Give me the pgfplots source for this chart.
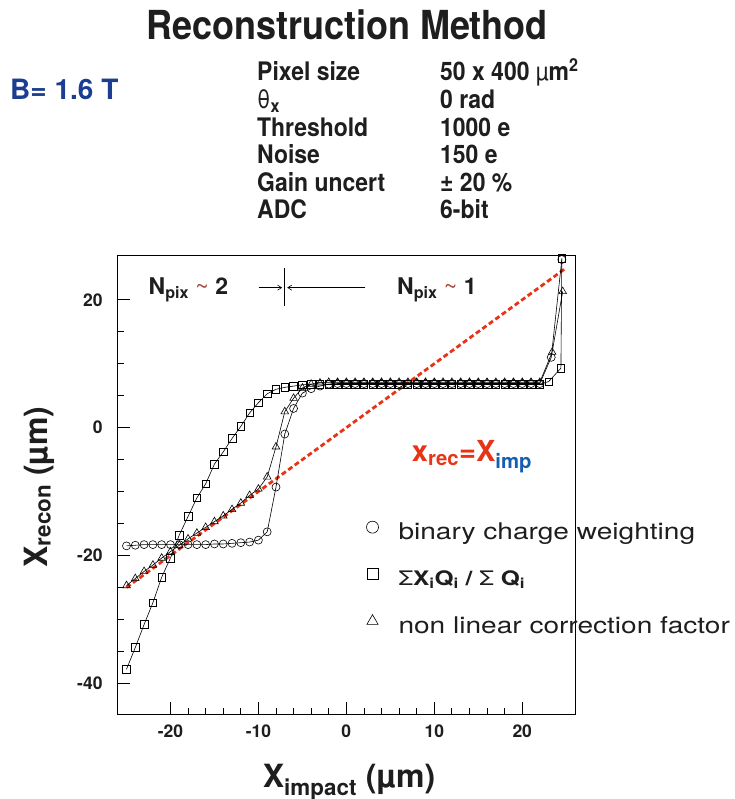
\documentclass[border=0pt]{standalone}
\usepackage{pgfplots}
\pgfplotsset{compat=1.18}
\usetikzlibrary{arrows.meta}
\usepackage{fontspec}
\setmainfont{TeX Gyre Heros}
\newfontfamily\cnd[FakeStretch=0.9]{TeX Gyre Heros}
\newfontfamily\wide[FakeStretch=1.22]{TeX Gyre Heros}
\definecolor{lred}{RGB}{232,52,22}
\definecolor{bblue}{RGB}{28,62,145}
\definecolor{iblue}{RGB}{20,95,175}
\definecolor{tred}{RGB}{165,70,55}
\definecolor{txt}{RGB}{30,30,30}
\pgfplotsset{
  legmark/.style={legend image code/.code={\draw[##1, mark size=#1, only marks] plot coordinates {(0pt,6.5pt)};}},
}

\pgfplotstableread{
x y
-25 -18.5
-24 -18.4
-23 -18.3
-22 -18.3
-21 -18.3
-20 -18.3
-19 -18.3
-18 -18.3
-17 -18.3
-16 -18.3
-15 -18.2
-14 -18.2
-13 -18.1
-12 -18.0
-11 -17.9
-10 -17.6
-9 -16.3
-8 -9.3
-7 -1.0
-6 3.0
-5 5.4
-4 6.1
-3 6.5
-2 6.8
-1 6.9
0 6.9
1 6.9
2 6.9
3 6.9
4 6.9
5 6.9
6 6.9
7 6.9
8 6.9
9 6.9
10 6.9
11 6.9
12 6.9
13 6.9
14 6.9
15 6.9
16 6.9
17 6.9
18 6.9
19 6.9
20 6.9
21 6.9
22 6.9
23.3 11.0
24.5 26.3
}\binary

\pgfplotstableread{
x y
-25 -37.8
-24 -34.4
-23 -30.8
-22 -27.4
-21 -23.4
-20 -20.4
-19 -16.8
-18 -13.9
-17 -11.0
-16 -8.8
-15 -5.7
-14 -3.8
-13 -1.7
-12 0.2
-11 2.3
-10 3.9
-9 5.3
-8 6.0
-7 6.3
-6 6.5
-5 6.7
-4 6.8
-3 6.8
-2 6.8
-1 6.8
0 6.8
1 6.8
2 6.8
3 6.8
4 6.8
5 6.8
6 6.8
7 6.8
8 6.8
9 6.8
10 6.8
11 6.8
12 6.8
13 6.8
14 6.8
15 6.8
16 6.8
17 6.8
18 6.8
19 6.8
20 6.8
21 6.8
22 6.8
23 7.2
24.4 9.3
24.5 26.5
}\cog

\pgfplotstableread{
x y
-25 -24.7
-24 -23.6
-23 -22.5
-22 -21.5
-21 -20.4
-20 -19.4
-19 -18.4
-18 -17.4
-17 -16.5
-16 -15.6
-15 -14.7
-14 -13.8
-13 -12.8
-12 -11.8
-11 -10.6
-10 -9.6
-9 -7.7
-8 -3.0
-7 2.5
-6 4.6
-5 6.2
-4 6.8
-3 7.0
-2 7.1
-1 7.1
0 7.1
1 7.1
2 7.1
3 7.1
4 7.1
5 7.1
6 7.1
7 7.1
8 7.1
9 7.1
10 7.1
11 7.1
12 7.1
13 7.1
14 7.1
15 7.1
16 7.1
17 7.1
18 7.1
19 7.1
20 7.1
21 7.1
22 7.1
23.4 11.8
24.6 21.3
}\nonlin

\begin{document}
\begin{tikzpicture}[x=1pt,y=1pt]
\useasboundingbox (0pt,0pt) rectangle (734pt,799pt);
% header
\node[anchor=base, inner sep=0, text=txt] at (347pt,759pt)
  {\cnd\fontsize{40}{40}\selectfont\bfseries Reconstruction Method};
\node[anchor=base west, inner sep=0, text=bblue] at (10pt,699pt)
  {\fontsize{28}{28}\selectfont\bfseries B= 1.6 T};
\begin{scope}[every node/.style={anchor=base west, inner sep=0, text=txt,
   font=\cnd\fontsize{25.5}{25.5}\selectfont\bfseries}]
\node at (257pt,718pt) {Pixel size};
\node at (257pt,690.4pt) {\mdseries θ\textsubscript{\bfseries x}};
\node at (257pt,662.8pt) {Threshold};
\node at (257pt,635.2pt) {Noise};
\node at (257pt,607.6pt) {Gain uncert};
\node at (257pt,580pt) {ADC};
\node at (440pt,718pt) {50 x 400 {\mdseries µ}m\textsuperscript{2}};
\node at (440pt,690.4pt) {0 rad};
\node at (440pt,662.8pt) {1000 e};
\node at (440pt,635.2pt) {150 e};
\node at (440pt,607.6pt) {± 20 \%};
\node at (440pt,580pt) {6-bit};
\end{scope}
% axis labels
\node[anchor=base, inner sep=0, text=txt] at (349pt,12pt)
  {\fontsize{32}{32}\selectfont\bfseries X\textsubscript{impact} (µm)};
\node[anchor=base, inner sep=0, rotate=90, text=txt] at (47pt,312pt)
  {\fontsize{32}{32}\selectfont\bfseries X\textsubscript{recon} (µm)};

\begin{axis}[
  at={(117.7pt,85pt)}, anchor=south west,
  scale only axis, width=457.3pt, height=458.3pt,
  xmin=-26, xmax=26, ymin=-44.8, ymax=26.9,
  clip=false,
  axis line style={black, line width=0.9pt},
  tick pos=left, tick align=inside,
  xtick={-20,-10,0,10,20}, ytick={-40,-20,0,20},
  minor x tick num=4, minor y tick num=3,
  major tick length=12pt, minor tick length=6pt,
  every tick/.style={black, line width=0.8pt},
  /pgf/number format/assume math mode=true,
  ticklabel style={font=\fontsize{17.5}{17.5}\selectfont\bfseries, text=txt},
  xticklabel style={inner sep=0pt, yshift=-11pt},
  yticklabel style={inner sep=0pt, xshift=-15pt},
  legend style={draw=none, fill=none, at={(axis cs:2.27,-14.6)}, anchor=north west,
    inner sep=0pt, row sep=24pt, column sep=20pt,
    nodes={inner sep=0pt, text height=16pt, text depth=5pt, text=txt},
    font=\wide\fontsize{23}{23}\selectfont},
  legend cell align=left,
]
\addplot[lred, line width=2.8pt, dash pattern=on 5pt off 3pt, forget plot]
  coordinates {(-25,-25) (25,25)};
\addplot[black, line width=0.6pt, mark=o, mark size=4pt, mark options={solid},
  legmark=6pt]
  table[x=x,y=y] {\binary};
\addplot[black, line width=0.6pt, mark=square, mark size=3.8pt, mark options={solid},
  legmark=5.5pt]
  table[x=x,y=y] {\cog};
\addplot[black, line width=0.6pt, mark=triangle, mark size=4.4pt, mark options={solid},
  legmark=6.5pt]
  table[x=x,y=y] {\nonlin};
\legend{binary charge weighting,
  {\bfseries\fontsize{20}{20}\selectfont {\mdseries Σ}X\textsubscript{i}Q\textsubscript{i} / {\mdseries Σ} Q\textsubscript{i}},
  non linear correction factor}
% annotations
\node[anchor=base west, inner sep=0, text=txt] at (axis cs:-22.5,20.8)
  {\fontsize{23}{23}\selectfont\bfseries N\textsubscript{pix} {\color{tred}\mdseries\textasciitilde} 2};
\node[anchor=base west, inner sep=0, text=txt] at (axis cs:5.76,20.8)
  {\fontsize{23}{23}\selectfont\bfseries N\textsubscript{pix} {\color{tred}\mdseries\textasciitilde} 1};
\draw[black, line width=0.6pt, -{Straight Barb[length=4pt,width=5pt]}] (axis cs:-9.97,21.9) -- (axis cs:-7.3,21.9);
\draw[black, line width=0.6pt] (axis cs:-7.01,24.9) -- (axis cs:-7.01,19.0);
\draw[black, line width=0.6pt, -{Straight Barb[length=4pt,width=5pt]}] (axis cs:2.15,21.9) -- (axis cs:-6.72,21.9);
\node[anchor=base west, inner sep=0] at (axis cs:7.43,-5.35)
  {\fontsize{29}{29}\selectfont\bfseries\color{lred}x\textsubscript{rec}=X\textsubscript{\color{iblue}imp}};
\end{axis}
\end{tikzpicture}
\end{document}
